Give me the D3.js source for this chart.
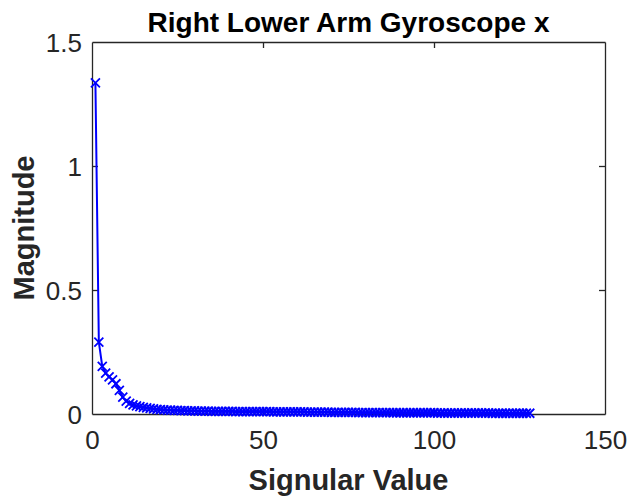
<!DOCTYPE html>
<html>
<head>
<meta charset="utf-8">
<script src="https://cdn.jsdelivr.net/npm/d3@7"></script>
<style>
  html, body { margin: 0; padding: 0; background: #fff; }
  svg { display: block; font-family: "Liberation Sans", Arial, Helvetica, sans-serif; }
</style>
</head>
<body>
<svg id="chart" width="630" height="497"></svg>
<script>
// Singular values of the right lower arm gyroscope (x axis), index 1..128
const singularValues = [
  1.335, 0.290, 0.192, 0.165, 0.150, 0.138, 0.122, 0.095, 0.068, 0.052,
  0.043, 0.037, 0.033, 0.030, 0.027, 0.025, 0.023, 0.021, 0.019, 0.018,
  0.017, 0.016, 0.016, 0.015, 0.015, 0.014, 0.014, 0.013, 0.013, 0.013,
  0.012, 0.012, 0.012, 0.012, 0.011, 0.011, 0.011, 0.011, 0.011, 0.011,
  0.011, 0.010, 0.010, 0.010, 0.010, 0.010, 0.010, 0.010, 0.010, 0.010,
  0.010, 0.010, 0.009, 0.009, 0.009, 0.009, 0.009, 0.009, 0.009, 0.009,
  0.009, 0.009, 0.008, 0.008, 0.008, 0.008, 0.008, 0.008, 0.008, 0.007,
  0.007, 0.007, 0.007, 0.007, 0.007, 0.007, 0.007, 0.006, 0.006, 0.006,
  0.006, 0.006, 0.006, 0.006, 0.006, 0.006, 0.006, 0.005, 0.005, 0.005,
  0.005, 0.005, 0.005, 0.005, 0.005, 0.005, 0.005, 0.005, 0.005, 0.005,
  0.004, 0.004, 0.004, 0.004, 0.004, 0.004, 0.004, 0.004, 0.004, 0.004,
  0.004, 0.004, 0.004, 0.004, 0.004, 0.004, 0.003, 0.003, 0.003, 0.003,
  0.003, 0.003, 0.003, 0.003, 0.003, 0.003, 0.003, 0.003
];
const xTicks = [0, 50, 100, 150];
const yTicks = [0, 0.5, 1, 1.5];
const xDomain = [0, 150];
const yDomain = [0, 1.5];
const titleText = "Right Lower Arm Gyroscope x";
const xLabelText = "Signular Value";
const yLabelText = "Magnitude";

const points = singularValues.map((v, i) => ({ k: i + 1, v }));

const svg = d3.select("#chart");
const plotL = 92, plotR = 605, plotT = 42, plotB = 414;
const axisColor = "#262626";
const tickFont = 26, labelFont = 29, titleFont = 28;

const x = d3.scaleLinear().domain(xDomain).range([plotL, plotR]);
const y = d3.scaleLinear().domain(yDomain).range([plotB, plotT]);

// Axes box with inward ticks on all four sides
const tickLen = 6;
const gx = svg.append("g").attr("transform", `translate(0,${plotB})`)
  .call(d3.axisBottom(x).tickValues(xTicks).tickFormat(d3.format("d")).tickSizeInner(-tickLen).tickSizeOuter(0).tickPadding(17));
const gxTop = svg.append("g").attr("transform", `translate(0,${plotT})`)
  .call(d3.axisTop(x).tickValues(xTicks).tickFormat("").tickSizeInner(-tickLen).tickSizeOuter(0));
const gy = svg.append("g").attr("transform", `translate(${plotL},0)`)
  .call(d3.axisLeft(y).tickValues(yTicks).tickFormat(d => d === 0 || d === 1 ? d3.format("d")(d) : d3.format(".1f")(d)).tickSizeInner(-tickLen).tickSizeOuter(0).tickPadding(10));
const gyRight = svg.append("g").attr("transform", `translate(${plotR},0)`)
  .call(d3.axisRight(y).tickValues(yTicks).tickFormat("").tickSizeInner(-tickLen).tickSizeOuter(0));

[gx, gxTop, gy, gyRight].forEach(g => {
  g.select(".domain").attr("stroke", axisColor).attr("stroke-width", 1.3);
  g.selectAll(".tick line").attr("stroke", axisColor).attr("stroke-width", 1.3);
  g.selectAll(".tick text").attr("fill", axisColor).attr("font-size", tickFont);
});
// edge ticks would sit on the frame corners
gx.selectAll(".tick").filter(d => d === 0 || d === 150).select("line").remove();
gxTop.selectAll(".tick").filter(d => d === 0 || d === 150).select("line").remove();
gy.selectAll(".tick").filter(d => d === 0 || d === 1.5).select("line").remove();
gyRight.selectAll(".tick").filter(d => d === 0 || d === 1.5).select("line").remove();
gy.selectAll(".tick text").attr("dy", "0.36em");

// Series line
const line = d3.line().x(d => x(d.k)).y(d => y(d.v));
svg.append("path").datum(points)
  .attr("fill", "none").attr("stroke", "#0000ff").attr("stroke-width", 2)
  .attr("stroke-linejoin", "round").attr("d", line);

// Cross markers
const m = 4.5;
svg.append("g").selectAll("path.mk").data(points).join("path")
  .attr("class", "mk")
  .attr("d", d => {
    const cx = x(d.k), cy = y(d.v);
    return `M${cx - m},${cy - m}L${cx + m},${cy + m}M${cx - m},${cy + m}L${cx + m},${cy - m}`;
  })
  .attr("stroke", "#0000ff").attr("stroke-width", 1.8).attr("fill", "none");

// Title and axis labels
svg.append("text").attr("x", (plotL + plotR) / 2).attr("y", 32)
  .attr("text-anchor", "middle").attr("font-weight", "bold").attr("font-size", titleFont)
  .attr("fill", "#000").text(titleText);
svg.append("text").attr("x", (plotL + plotR) / 2).attr("y", 490)
  .attr("text-anchor", "middle").attr("font-weight", "bold").attr("font-size", labelFont)
  .attr("fill", axisColor).text(xLabelText);
svg.append("text").attr("transform", `translate(34,${(plotT + plotB) / 2}) rotate(-90)`)
  .attr("text-anchor", "middle").attr("font-weight", "bold").attr("font-size", labelFont)
  .attr("fill", axisColor).text(yLabelText);
</script>
</body>
</html>
